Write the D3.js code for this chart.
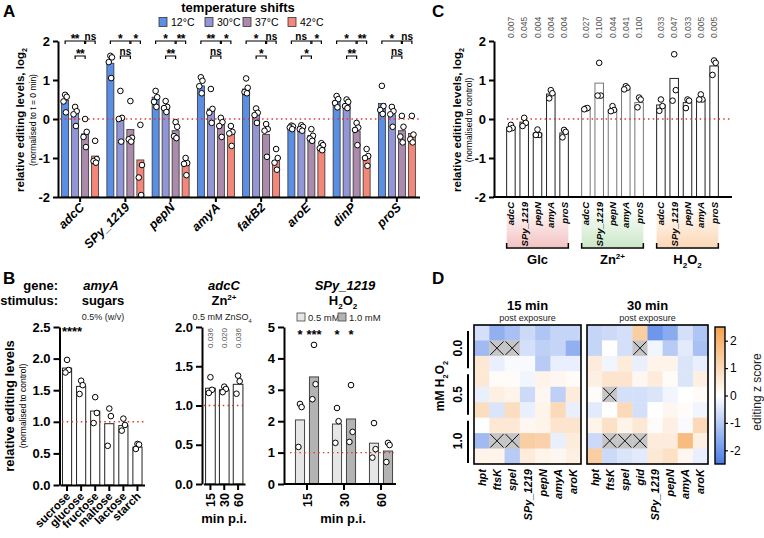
<!DOCTYPE html>
<html><head><meta charset="utf-8">
<script src="https://cdn.jsdelivr.net/npm/d3@7"></script>
<style>body{margin:0;background:#fff}svg{display:block}</style>
</head><body><svg id="c" width="764" height="538"></svg>
<script>
// ================= DATA =================
// Panel A
const temps = ["12°C","30°C","37°C","42°C"];
const tempColors = ["#5b8fe3","#9396d6","#ab8aab","#f2877a"];
const genesA = ["adcC","SPy_1219","pepN","amyA","fakB2","aroE","dinP","proS"];
const a12 = [0.48,1.43,0.56,0.85,0.77,-0.20,0.47,0.40];
const a30 = [0.15,0.04,0.30,0.26,0.13,-0.20,0.38,0.11];
const a37 = [-0.38,-0.27,-0.30,-0.15,-0.40,-0.42,-0.31,-0.30];
const a42 = [-0.95,-1.05,-1.15,-0.35,-1.07,-0.70,-1.00,-0.37];
const a12pts = [[0.62,0.57,0.45,0.17],[1.62,1.58,1.46,1.05],[0.72,0.56,0.44,0.31],[1.07,0.98,0.84,0.66],[1.04,0.80,0.69,0.66],[-0.17,-0.19,-0.22,-0.26],[0.59,0.51,0.41,0.30],[0.85,0.33,0.23,0.13]];
const a30pts = [[0.31,0.20,0.12,-0.18],[0.72,0.03,0.00,-0.58],[0.46,0.31,0.28,0.18],[0.77,0.26,0.16,-0.10],[0.27,0.16,0.10,-0.10],[-0.16,-0.20,-0.26,-0.30],[0.50,0.44,0.33,0.28],[0.31,0.20,0.12,-0.20]];
const a37pts = [[0.00,-0.33,-0.46,-0.72],[0.46,-0.48,-0.52,-0.58],[-0.08,-0.20,-0.44,-0.49],[0.03,-0.08,-0.18,-0.46],[-0.13,-0.26,-0.30,-0.97],[-0.26,-0.43,-0.50,-0.56],[-0.10,-0.22,-0.28,-0.67],[0.08,-0.20,-0.45,-0.60]];
const a42pts = [[-0.56,-1.03,-1.08,-1.12],[-0.15,-1.18,-1.50,-1.95],[-1.00,-1.13,-1.15,-1.44],[-0.18,-0.33,-0.37,-0.69],[-0.77,-1.00,-1.12,-1.30],[-0.62,-0.67,-0.75,-0.80],[-0.77,-0.95,-1.00,-1.20],[0.08,-0.40,-0.52,-0.60]];
const sigA_12v37 = ["**","*","*","**","*","ns","*","*"];
const sigA_37v42 = ["ns","*","**","*","ns","*","**","ns"];
const sigA_30v37 = ["**","ns","**","ns","*","*","**","ns"];
const ticksA = [-2,-1,0,1,2];

// Panel C
const stimuliC = ["Glc","Zn","H2O2"];
const genesC = ["adcC","SPy_1219","pepN","amyA","proS"];
const cGlc = [-0.21,-0.08,-0.36,0.64,-0.36];
const cZn = [0.27,0.92,0.23,0.78,0.42];
const cH2O2 = [0.36,1.04,0.42,0.49,1.36];
const cGlcPts = [[-0.15,-0.23,-0.26],[0.03,-0.10,-0.18],[-0.27,-0.41,-0.41],[0.74,0.66,0.53],[-0.28,-0.33,-0.47]];
const cZnPts = [[0.27,0.28,0.25],[1.44,0.60,0.60],[0.33,0.23,0.20],[0.84,0.80,0.76],[0.55,0.50,0.30]];
const cH2O2Pts = [[0.50,0.33,0.21],[1.66,0.74,0.47],[0.50,0.47,0.28],[0.63,0.50,0.50],[1.50,1.44,1.13]];
const pGlc = ["0.007","0.045","0.004","0.004","0.004"];
const pZn = ["0.027","0.100","0.044","0.041","0.100"];
const pH2O2 = ["0.033","0.047","0.033","0.005","0.005"];

// Panel B
const sugars = ["sucrose","glucose","fructose","maltose","lactose","starch"];
const sugarVals = [1.85,1.56,1.17,0.97,0.94,0.60];
const sugarPts = [[1.98,1.82,1.78],[1.65,1.58,1.44],[1.39,1.14,0.98],[1.21,1.09,0.62],[1.05,0.95,0.86],[0.65,0.64,0.57]];
const sugarSig = ["****","","","","",""];
const ticksB1 = [0,0.5,1,1.5,2,2.5];
const timesB = ["15","30","60"];
const znVals = [1.22,1.20,1.27];
const znPts = [[1.36,1.20,1.16],[1.24,1.21,1.17],[1.38,1.31,1.15]];
const znP = ["0.036","0.020","0.036"];
const ticksB2 = [0,0.5,1,1.5,2];
const concs = ["0.5 mM","1.0 mM"];
const concColors = ["#e6e6e6","#b3b3b3"];
const h05 = [2.04,1.91,1.30];
const h10 = [3.41,2.07,1.05];
const h05Pts = [[2.55,2.45,1.18],[2.42,2.00,1.31],[1.94,1.11,0.84]];
const h10Pts = [[4.43,3.18,2.70],[3.15,1.66,1.34],[1.31,1.24,0.70]];
const h05Sig = ["*","*",""];
const h10Sig = ["***","*",""];
const ticksB3 = [0,1,2,3,4,5];

// Panel D
const cols15 = ["hpt","ftsK","speI","SPy_1219","pepN","amyA","aroK"];
const cols30 = ["hpt","ftsK","speI","gid","SPy_1219","pepN","amyA","aroK"];
const concLabels = ["0.0","0.5","1.0"];
const hm15 = [
 [-0.6,-1.5,-1.2,-0.7,-1.1,-0.8,-0.8],
 [-1.3,null,null,-0.6,-0.9,-0.8,-1.5],
 [0.6,-0.3,-0.1,-0.1,-1.0,-0.3,-0.3],
 [0.6,0.1,0.1,-0.2,0.3,0.2,0.1],
 [-0.3,0.4,0.3,-0.7,0.2,-0.9,0.5],
 [0.9,-0.5,0.9,-0.3,0.3,1.0,-0.3],
 [0.0,0.6,0.6,0.2,0.3,0.7,0.7],
 [-1.3,null,null,1.3,1.2,-0.3,0.5],
 [0.3,0.3,-1.0,0.5,0.3,0.2,0.4]];
const hm30 = [
 [-0.8,-0.7,-0.6,1.3,-2.0,-1.6,-0.6,-1.1],
 [-0.8,0.0,-0.6,null,-0.2,-1.0,-0.4,-1.2],
 [0.5,-0.2,0.5,-0.3,0.3,0.3,-0.5,-0.3],
 [0.4,0.7,0.7,0.2,0.5,0.1,-0.5,0.4],
 [0.1,null,-0.6,-0.6,-0.5,-0.2,0.0,0.1],
 [-0.4,0.0,1.0,-0.6,0.0,0.2,0.1,-0.2],
 [0.3,0.8,0.3,0.6,0.1,0.4,-0.1,1.0],
 [-0.7,null,null,null,0.5,0.5,1.8,0.4],
 [1.3,-0.7,-0.5,-0.4,0.6,0.8,0.2,-0.3]];
const ticksCb = [-2,-1,0,1,2];

// ================= DRAWING =================
const F = '"Liberation Sans", Arial, Helvetica, sans-serif';
const svg = d3.select("#c");
svg.append("rect").attr("width",764).attr("height",538).attr("fill","#fff");
const RED = "#d93a2e";

function txt(g,x,y,s,o={}){
  const t=g.append("text").attr("x",x).attr("y",y).text(s)
   .attr("font-family",F).attr("font-size",o.size||12)
   .attr("font-weight",o.weight||"normal").attr("font-style",o.style||"normal")
   .attr("text-anchor",o.anchor||"start").attr("fill",o.fill||"#000");
  if(o.spacing!==undefined) t.attr("letter-spacing",o.spacing);
  if(o.rotate) t.attr("transform",`rotate(${o.rotate},${x},${y})`);
  return t;
}
function rich(g,x,y,parts,o={}){
  const size=o.size||12;
  const t=g.append("text").attr("x",x).attr("y",y)
   .attr("font-family",F).attr("font-size",size)
   .attr("font-weight",o.weight||"normal").attr("font-style",o.style||"normal")
   .attr("text-anchor",o.anchor||"start").attr("fill",o.fill||"#000");
  let cur=0;
  parts.forEach(p=>{
    const s=typeof p==="string"?{t:p}:p;
    const target=s.sub?size*0.3:(s.sup?-size*0.4:0);
    const ts=t.append("tspan").text(s.t).attr("dy",target-cur);
    if(s.sub||s.sup) ts.attr("font-size",size*0.62);
    cur=target;
  });
  if(o.rotate) t.attr("transform",`rotate(${o.rotate},${x},${y})`);
  return t;
}
function styleAxis(sel,fs,weight){
  sel.select(".domain").attr("stroke","#000").attr("stroke-width",2);
  sel.selectAll(".tick line").attr("stroke","#000").attr("stroke-width",2);
  sel.selectAll(".tick text").attr("font-family",F).attr("font-size",fs||13)
    .attr("font-weight",weight||"bold").attr("fill","#000");
}
function dotted(g,x1,x2,y){
  g.append("line").attr("x1",x1).attr("x2",x2).attr("y1",y).attr("y2",y)
   .attr("stroke",RED).attr("stroke-width",1.4).attr("stroke-dasharray","1.5,3.2");
}
const jit=[0,1.6,-1.6,0.8,-0.8];
function dots(g,arr,cx,y,r){
  g.selectAll(null).data(arr).join("circle")
   .attr("cx",(v,k)=>cx+jit[k%jit.length]).attr("cy",v=>y(v)).attr("r",r||2.8)
   .attr("fill","#fff").attr("stroke","#000").attr("stroke-width",1);
}
function starText(g,x,y,label){
  if(label==="ns") txt(g,x,y-1.5,label,{size:10,weight:"bold",anchor:"middle"});
  else txt(g,x,y+1.5,label,{size:12,weight:"bold",anchor:"middle",spacing:-0.5});
}
function bracket(g,x1,x2,y,label){
  g.append("path").attr("d",`M${x1},${y+3}V${y}H${x2}V${y+3}`)
   .attr("fill","none").attr("stroke","#000").attr("stroke-width",1.2);
  starText(g,(x1+x2)/2,y,label);
}

// ---------- Panel A ----------
const gA=svg.append("g");
txt(gA,3,17,"A",{size:17,weight:"bold"});
const xA=d3.scaleBand().domain(genesA).range([57.5,419.5]);
const xAi=d3.scaleBand().domain(temps).range([-20,20]).paddingInner(0.3).paddingOuter(0.15);
const yA=d3.scaleLinear().domain([-2,2]).range([197,41]);
const aBars=[a12,a30,a37,a42], aPts=[a12pts,a30pts,a37pts,a42pts];
const cxA=(gi,ti)=>xA(genesA[gi])+xA.bandwidth()/2+xAi(temps[ti])+xAi.bandwidth()/2;
temps.forEach((t,ti)=>{
  gA.append("g").selectAll("rect").data(aBars[ti]).join("rect")
   .attr("x",(v,i)=>xA(genesA[i])+xA.bandwidth()/2+xAi(t))
   .attr("width",xAi.bandwidth())
   .attr("y",v=>yA(v)).attr("height",v=>yA(-2)-yA(v))
   .attr("fill",tempColors[ti]).attr("stroke","#333").attr("stroke-width",0.8);
});
dotted(gA,60,419,yA(0));
temps.forEach((t,ti)=>aPts[ti].forEach((arr,gi)=>dots(gA,arr,cxA(gi,ti),yA)));
genesA.forEach((g,gi)=>{
  bracket(gA,cxA(gi,0),cxA(gi,2)-0.5,41,sigA_12v37[gi]);
  bracket(gA,cxA(gi,2)+0.5,cxA(gi,3),41,sigA_37v42[gi]);
  bracket(gA,cxA(gi,1),cxA(gi,2),56,sigA_30v37[gi]);
});
const axAy=gA.append("g").attr("transform","translate(58,0)")
 .call(d3.axisLeft(yA).tickValues(ticksA).tickSize(5).tickSizeOuter(0).tickPadding(3).tickFormat(d=>String(d)));
styleAxis(axAy,13);
const axAx=gA.append("g").attr("transform","translate(0,197)")
 .call(d3.axisBottom(xA).tickSize(5).tickSizeOuter(0).tickFormat(""));
styleAxis(axAx,13);
genesA.forEach(g=>{
  const x=xA(g)+xA.bandwidth()/2;
  txt(gA,x+5,208,g,{size:12.5,weight:"bold",style:"italic",anchor:"end",rotate:-45});
});
rich(gA,24,120,["relative editing levels, log",{t:"2",sub:true}],{size:11.5,weight:"bold",anchor:"middle",rotate:-90});
txt(gA,36,120,"(normalised to t = 0 min)",{size:8.5,anchor:"middle",rotate:-90});
txt(gA,238,12,"temperature shifts",{size:13,weight:"bold",anchor:"middle"});
const legX=[159,205,243,288];
temps.forEach((t,i)=>{
  gA.append("rect").attr("x",legX[i]).attr("y",17.5).attr("width",8).attr("height",9)
   .attr("fill",tempColors[i]).attr("stroke","#333").attr("stroke-width",0.8);
  txt(gA,legX[i]+12,26,t,{size:10.5});
});

// ---------- Panel C ----------
const gC=svg.append("g");
txt(gC,432,17,"C",{size:17,weight:"bold"});
const xC=d3.scaleBand().domain(stimuliC).range([500,725]);
const xCi=d3.scaleBand().domain(genesC).range([-33.25,33.25]).paddingInner(0.36).paddingOuter(0.18);
const yC=d3.scaleLinear().domain([-2,2]).range([197,41]);
const cBars=[cGlc,cZn,cH2O2], cPts=[cGlcPts,cZnPts,cH2O2Pts], cP=[pGlc,pZn,pH2O2];
const cStroke=["#222","#777","#222"];
const gradCols=["#f2bcbc","#c6e5c2","#fbd3ad"];
const defs=svg.append("defs");
gradCols.forEach((c,i)=>{
  const lg=defs.append("linearGradient").attr("id","gc"+i).attr("x1",0).attr("x2",0).attr("y1",0).attr("y2",1);
  lg.append("stop").attr("offset","0%").attr("stop-color",c).attr("stop-opacity",0);
  lg.append("stop").attr("offset","100%").attr("stop-color",c).attr("stop-opacity",0.9);
});
const bxC=(si,gi)=>xC(stimuliC[si])+xC.bandwidth()/2+xCi(genesC[gi]);
stimuliC.forEach((s,si)=>{
  const x1=bxC(si,0), x2=bxC(si,4)+xCi.bandwidth();
  gC.append("rect").attr("x",x1).attr("y",206).attr("width",x2-x1).attr("height",41).attr("fill",`url(#gc${si})`);
  gC.append("g").selectAll("rect").data(cBars[si]).join("rect")
   .attr("x",(v,i)=>bxC(si,i)).attr("width",xCi.bandwidth())
   .attr("y",v=>yC(v)).attr("height",v=>yC(-2)-yC(v))
   .attr("fill","#fff").attr("stroke",cStroke[si]).attr("stroke-width",1);
});
dotted(gC,507,732,yC(0));
stimuliC.forEach((s,si)=>{
  cPts[si].forEach((arr,gi)=>dots(gC,arr,bxC(si,gi)+xCi.bandwidth()/2,yC));
  genesC.forEach((g,gi)=>{
    const cx=bxC(si,gi)+xCi.bandwidth()/2;
    txt(gC,cx+3,38,cP[si][gi],{size:8.5,fill:"#555",rotate:-90});
    txt(gC,cx+3.5,202,g,{size:9.5,weight:"bold",style:"italic",anchor:"end",rotate:-90});
  });
  const x1=bxC(si,0), x2=bxC(si,4)+xCi.bandwidth();
  gC.append("path").attr("d",`M${x1},243V248H${x2}V243`).attr("fill","none").attr("stroke","#000").attr("stroke-width",1.5);
});
const cxm=si=>xC(stimuliC[si])+xC.bandwidth()/2;
txt(gC,cxm(0),264,"Glc",{size:13,weight:"bold",anchor:"middle"});
rich(gC,cxm(1),264,["Zn",{t:"2+",sup:true}],{size:13,weight:"bold",anchor:"middle"});
rich(gC,cxm(2),264,["H",{t:"2",sub:true},"O",{t:"2",sub:true}],{size:13,weight:"bold",anchor:"middle"});
const axCy=gC.append("g").attr("transform","translate(494,0)")
 .call(d3.axisLeft(yC).tickValues(ticksA).tickSize(5).tickSizeOuter(0).tickPadding(3).tickFormat(d=>String(d)));
styleAxis(axCy,13);
gC.append("line").attr("x1",493).attr("x2",732).attr("y1",197).attr("y2",197).attr("stroke","#000").attr("stroke-width",2);
rich(gC,461,120,["relative editing levels, log",{t:"2",sub:true}],{size:11.5,weight:"bold",anchor:"middle",rotate:-90});
txt(gC,472,120,"(normalised to control)",{size:8.5,anchor:"middle",rotate:-90});

// ---------- Panel B ----------
const gB=svg.append("g");
txt(gB,3,284,"B",{size:17,weight:"bold"});
txt(gB,58,290,"gene:",{size:13,weight:"bold",anchor:"end"});
txt(gB,58,305,"stimulus:",{size:13,weight:"bold",anchor:"end"});
const xB1=d3.scaleBand().domain(sugars).range([60,144.5]).paddingInner(0.35).paddingOuter(0.175);
const yB1=d3.scaleLinear().domain([0,2.5]).range([485,327]);
gB.append("g").selectAll("rect").data(sugarVals).join("rect")
 .attr("x",(v,i)=>xB1(sugars[i])).attr("width",xB1.bandwidth())
 .attr("y",v=>yB1(v)).attr("height",v=>yB1(0)-yB1(v))
 .attr("fill","#fff").attr("stroke","#222").attr("stroke-width",1);
dotted(gB,62,146,yB1(1));
sugarPts.forEach((arr,i)=>dots(gB,arr,xB1(sugars[i])+xB1.bandwidth()/2,yB1));
sugarSig.forEach((s,i)=>{ if(s) txt(gB,xB1(sugars[i])+xB1.bandwidth()/2+5,336,s,{size:13,weight:"bold",anchor:"middle"}); });
const axB1y=gB.append("g").attr("transform","translate(59.5,0)")
 .call(d3.axisLeft(yB1).tickValues(ticksB1).tickSize(6).tickSizeOuter(0).tickPadding(3).tickFormat(d3.format(".1f")));
styleAxis(axB1y,13);
const axB1x=gB.append("g").attr("transform","translate(0,485)")
 .call(d3.axisBottom(xB1).tickSize(6).tickSizeOuter(0).tickFormat(""));
styleAxis(axB1x,12);
sugars.forEach(s=>{
  const x=xB1(s)+xB1.bandwidth()/2;
  txt(gB,x+4,497,s,{size:11.5,weight:"bold",anchor:"end",rotate:-45});
});
txt(gB,101,290,"amyA",{size:13,weight:"bold",style:"italic",anchor:"middle"});
txt(gB,103,305,"sugars",{size:13,weight:"bold",anchor:"middle"});
txt(gB,103,320,"0.5% (w/v)",{size:9,fill:"#222",anchor:"middle"});
txt(gB,14,406,"relative editing levels",{size:13,weight:"bold",anchor:"middle",rotate:-90});
txt(gB,26,406,"(normalised to control)",{size:8.5,anchor:"middle",rotate:-90});

const xB2=d3.scaleBand().domain(timesB).range([203.5,245]).paddingInner(0.3).paddingOuter(0.15);
const yB2=d3.scaleLinear().domain([0,2]).range([484,327]);
gB.append("g").selectAll("rect").data(znVals).join("rect")
 .attr("x",(v,i)=>xB2(timesB[i])).attr("width",xB2.bandwidth())
 .attr("y",v=>yB2(v)).attr("height",v=>yB2(0)-yB2(v))
 .attr("fill","#fff").attr("stroke","#222").attr("stroke-width",1);
dotted(gB,204,246,yB2(1));
znPts.forEach((arr,i)=>dots(gB,arr,xB2(timesB[i])+xB2.bandwidth()/2,yB2));
znP.forEach((p,i)=>txt(gB,xB2(timesB[i])+xB2.bandwidth()/2+3,348,p,{size:8,fill:"#555",rotate:-90}));
const axB2y=gB.append("g").attr("transform","translate(202,0)")
 .call(d3.axisLeft(yB2).tickValues(ticksB2).tickSize(6).tickSizeOuter(0).tickPadding(3).tickFormat(d3.format(".1f")));
styleAxis(axB2y,13);
const axB2x=gB.append("g").attr("transform","translate(0,484)")
 .call(d3.axisBottom(xB2).tickSize(6).tickSizeOuter(0).tickFormat(""));
styleAxis(axB2x,12);
timesB.forEach(t=>txt(gB,xB2(t)+xB2.bandwidth()/2+4.5,493,t,{size:12.5,weight:"bold",anchor:"end",rotate:-90}));
txt(gB,224,523,"min p.i.",{size:13,weight:"bold",anchor:"middle"});
txt(gB,224,290,"adcC",{size:13,weight:"bold",style:"italic",anchor:"middle"});
rich(gB,224,305,["Zn",{t:"2+",sup:true}],{size:13,weight:"bold",anchor:"middle"});
rich(gB,222,320,["0.5 mM ZnSO",{t:"4",sub:true}],{size:9,fill:"#222",anchor:"middle"});

const xB3=d3.scaleBand().domain(timesB).range([288.5,399.5]);
const xB3i=d3.scaleBand().domain(concs).range([-14,14]).paddingInner(0.35).paddingOuter(0.175);
const yB3=d3.scaleLinear().domain([0,5]).range([484,327]);
const hVals=[h05,h10], hPts=[h05Pts,h10Pts], hSig=[h05Sig,h10Sig];
const bxB3=(ti,ci)=>xB3(timesB[ti])+xB3.bandwidth()/2+xB3i(concs[ci]);
concs.forEach((c,ci)=>{
  gB.append("g").selectAll("rect").data(hVals[ci]).join("rect")
   .attr("x",(v,i)=>bxB3(i,ci)).attr("width",xB3i.bandwidth())
   .attr("y",v=>yB3(v)).attr("height",v=>yB3(0)-yB3(v))
   .attr("fill",concColors[ci]).attr("stroke","#444").attr("stroke-width",1);
});
dotted(gB,290,394,yB3(1));
concs.forEach((c,ci)=>{
  hPts[ci].forEach((arr,i)=>dots(gB,arr,bxB3(i,ci)+xB3i.bandwidth()/2,yB3));
  hSig[ci].forEach((s,i)=>{ if(s) txt(gB,bxB3(i,ci)+xB3i.bandwidth()/2,339,s,{size:13,weight:"bold",anchor:"middle"}); });
});
const axB3y=gB.append("g").attr("transform","translate(284,0)")
 .call(d3.axisLeft(yB3).tickValues(ticksB3).tickSize(6).tickSizeOuter(0).tickPadding(3).tickFormat(d=>String(d)));
styleAxis(axB3y,13);
const axB3x=gB.append("g").attr("transform","translate(0,484)")
 .call(d3.axisBottom(xB3).tickSize(6).tickSizeOuter(0).tickFormat(""));
axB3x.select(".domain").attr("d","M284,0H396");
styleAxis(axB3x,12);
timesB.forEach(t=>txt(gB,xB3(t)+xB3.bandwidth()/2+4.5,493,t,{size:12.5,weight:"bold",anchor:"end",rotate:-90}));
txt(gB,343,523,"min p.i.",{size:13,weight:"bold",anchor:"middle"});
txt(gB,345,290,"SPy_1219",{size:13,weight:"bold",style:"italic",anchor:"middle"});
rich(gB,343,305,["H",{t:"2",sub:true},"O",{t:"2",sub:true}],{size:13,weight:"bold",anchor:"middle"});
const legB3=[297,338];
concs.forEach((c,i)=>{
  gB.append("rect").attr("x",legB3[i]).attr("y",313).attr("width",8).attr("height",8)
   .attr("fill",concColors[i]).attr("stroke","#444").attr("stroke-width",0.8);
  txt(gB,legB3[i]+11,321,c,{size:9.5,fill:"#222"});
});

// ---------- Panel D ----------
const gD=svg.append("g");
txt(gD,432,284,"D",{size:17,weight:"bold"});
const color=d3.scaleLinear().domain([-2.5,0,2.5]).range(["#4a7ce6","#ffffff","#f5a04f"]);
const rowsD=d3.range(9);
function heat(data,cols,x0,x1,title){
  const xs=d3.scaleBand().domain(cols).range([x0,x1]);
  const ys=d3.scaleBand().domain(rowsD).range([325,464]);
  const g=gD.append("g");
  data.forEach((row,ri)=>{
    g.selectAll(null).data(row).join("rect")
     .attr("x",(v,ci)=>xs(cols[ci])).attr("y",ys(ri))
     .attr("width",xs.bandwidth()+0.4).attr("height",ys.bandwidth()+0.4)
     .attr("fill",v=>v===null?"#c6c6c6":color(v));
    row.forEach((v,ci)=>{
      if(v===null){
        const a=xs(cols[ci]),b=ys(ri),w=xs.bandwidth(),h=ys.bandwidth();
        g.append("path").attr("d",`M${a+1},${b+1}L${a+w-1},${b+h-1}M${a+w-1},${b+1}L${a+1},${b+h-1}`)
         .attr("stroke","#111").attr("stroke-width",1);
      }
    });
  });
  g.append("rect").attr("x",x0).attr("y",325).attr("width",x1-x0).attr("height",139)
   .attr("fill","none").attr("stroke","#000").attr("stroke-width",1.6);
  cols.forEach(c=>txt(g,xs(c)+xs.bandwidth()/2+4,469,c,{size:11,weight:"bold",style:"italic",anchor:"end",rotate:-90}));
  const cx=(x0+x1)/2;
  txt(g,cx,310,title,{size:13,weight:"bold",anchor:"middle"});
  txt(g,cx,321,"post exposure",{size:9,fill:"#222",anchor:"middle"});
  return ys;
}
const ysD=heat(hm15,cols15,474,581,"15 min");
heat(hm30,cols30,587,708,"30 min");
concLabels.forEach((c,i)=>{
  const yTop=ysD(i*3)+ (i===0?6:3), yBot=ysD(i*3+2)+ysD.bandwidth()-(i===2?1:3);
  gD.append("line").attr("x1",468).attr("x2",468).attr("y1",yTop).attr("y2",yBot).attr("stroke","#000").attr("stroke-width",2);
  txt(gD,462,(ysD(i*3)+ysD(i*3+2)+ysD.bandwidth())/2,c,{size:12,weight:"bold",anchor:"middle",rotate:-90});
});
rich(gD,444,386,["mM H",{t:"2",sub:true},"O",{t:"2",sub:true}],{size:12,weight:"bold",anchor:"middle",rotate:-90});
const cg=defs.append("linearGradient").attr("id","cbar").attr("x1",0).attr("x2",0).attr("y1",1).attr("y2",0);
[-2.5,-1.25,0,1.25,2.5].forEach(v=>cg.append("stop").attr("offset",((v+2.5)/5*100)+"%").attr("stop-color",color(v)));
const yCb=d3.scaleLinear().domain([-2.5,2.5]).range([464,327]);
gD.append("rect").attr("x",715).attr("y",327).attr("width",10).attr("height",137).attr("fill","url(#cbar)")
 .attr("stroke","#000").attr("stroke-width",1.4);
const axCb=gD.append("g").attr("transform","translate(725,0)")
 .call(d3.axisRight(yCb).tickValues(ticksCb).tickSize(3).tickSizeOuter(0).tickPadding(2).tickFormat(d=>String(d)));
axCb.select(".domain").remove();
axCb.selectAll(".tick line").attr("stroke","#000").attr("stroke-width",1.2);
axCb.selectAll(".tick text").attr("font-family",F).attr("font-size",12).attr("fill","#000");
txt(gD,761,392,"editing z score",{size:12,anchor:"middle",rotate:-90,fill:"#222"});
</script></body></html>
